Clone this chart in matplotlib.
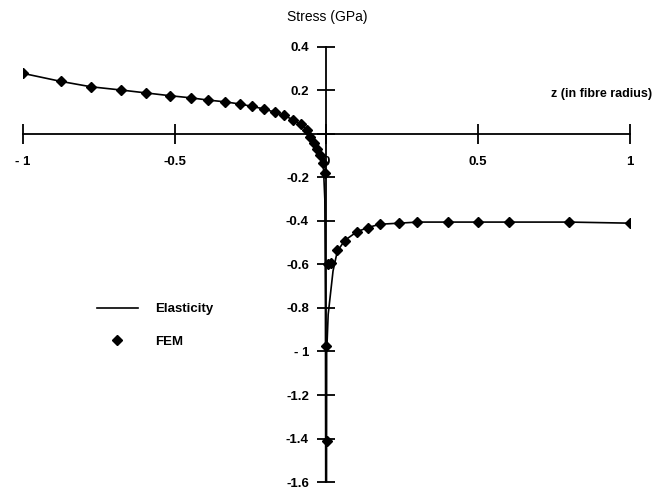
import matplotlib
matplotlib.use('Agg')
import matplotlib.pyplot as plt

plt.rcParams['font.family'] = ['Liberation Sans', 'DejaVu Sans']

# FEM results, z in fibre radius, stress in GPa
fem_z = [-1.0, -0.875, -0.775, -0.675, -0.595, -0.515, -0.445, -0.39, -0.335,
         -0.285, -0.245, -0.205, -0.17, -0.14, -0.11, -0.085, -0.065, -0.055,
         -0.042, -0.032, -0.02, -0.012, -0.006, -0.002, 0.002,
         0.004, 0.016, 0.036, 0.06, 0.1, 0.137, 0.176, 0.24, 0.3,
         0.4, 0.5, 0.6, 0.8, 1.0]
fem_s = [0.279, 0.242, 0.217, 0.202, 0.189, 0.176, 0.166, 0.156, 0.148,
         0.138, 0.127, 0.115, 0.10, 0.085, 0.066, 0.045, 0.02, -0.012,
         -0.04, -0.068, -0.095, -0.135, -0.18, -0.975, -1.41,
         -0.6, -0.595, -0.535, -0.49, -0.45, -0.43, -0.415, -0.41, -0.405,
         -0.405, -0.405, -0.405, -0.405, -0.41]

# elasticity solution (singular at z = 0)
ela_z = [-1.0, -0.875, -0.775, -0.675, -0.595, -0.515, -0.445, -0.39, -0.335,
         -0.285, -0.245, -0.205, -0.17, -0.14, -0.11, -0.085, -0.065, -0.045,
         -0.03, -0.018, -0.01, -0.005, -0.003, -0.002,
         0.0005, 0.001, 0.006, 0.022, 0.036, 0.06, 0.1, 0.137, 0.176, 0.24,
         0.3, 0.4, 0.5, 0.6, 0.8, 1.0]
ela_s = [0.279, 0.242, 0.217, 0.202, 0.189, 0.176, 0.166, 0.156, 0.148,
         0.138, 0.127, 0.115, 0.10, 0.085, 0.066, 0.045, 0.02, -0.02,
         -0.06, -0.1, -0.14, -0.3, -0.8, -1.7,
         -1.7, -1.01, -0.83, -0.63, -0.54, -0.49, -0.45, -0.43, -0.415, -0.41,
         -0.405, -0.405, -0.405, -0.405, -0.405, -0.41]

x_ticks = [-1, -0.5, 0, 0.5, 1]
x_labels = ['- 1', '-0.5', '0', '0.5', '1']
y_ticks = [0.4, 0.2, 0, -0.2, -0.4, -0.6, -0.8, -1, -1.2, -1.4, -1.6]
y_labels = ['0.4', '0.2', '', '-0.2', '-0.4', '-0.6', '-0.8', '- 1', '-1.2', '-1.4', '-1.6']

fig = plt.figure(figsize=(6.54, 4.93), dpi=100)
ax = fig.add_axes([0.0347, 0.0223, 0.9286, 0.8824])

ax.plot(ela_z, ela_s, '-', color='black', lw=1.2, label='Elasticity')
ax.plot(fem_z, fem_s, 'D', color='black', ms=5.5, ls='none', label='FEM')

ax.set_xlim(-1, 1)
ax.set_ylim(-1.6, 0.4)
ax.spines['left'].set_position(('data', 0))
ax.spines['bottom'].set_position(('data', 0))
ax.spines['top'].set_visible(False)
ax.spines['right'].set_visible(False)
for sp in ('left', 'bottom'):
    ax.spines[sp].set_linewidth(1.3)

ax.set_xticks(x_ticks)
ax.set_xticklabels(x_labels)
ax.set_yticks(y_ticks)
ax.set_yticklabels(y_labels)
ax.tick_params(axis='x', direction='inout', length=14, width=1.3, pad=9,
               labelsize=9.5)
ax.tick_params(axis='y', direction='inout', length=13, width=1.3, pad=6,
               labelsize=9.5)
for lab in ax.get_xticklabels() + ax.get_yticklabels():
    lab.set_fontweight('bold')

fig.text(0.5, 0.965, 'Stress (GPa)', ha='center', va='center', fontsize=10)
fig.text(0.997, 0.81, 'z (in fibre radius)', ha='right', va='center',
         fontsize=9, fontweight='bold')

ax.legend(loc='center left', bbox_to_anchor=(0.148, 0.34),
          bbox_transform=fig.transFigure, frameon=False,
          prop={'weight': 'bold', 'size': 9.5}, handlelength=3.1,
          handletextpad=1.3, labelspacing=1.5, borderpad=0, borderaxespad=0)

fig.savefig('out.png', dpi=100)
